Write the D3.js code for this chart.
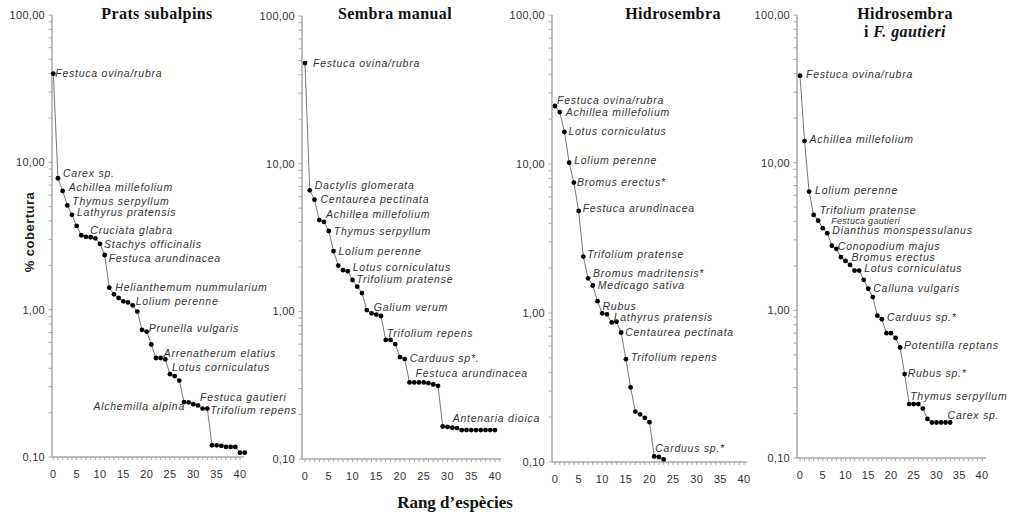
<!DOCTYPE html>
<html>
<head>
<meta charset="utf-8">
<script src="https://cdn.jsdelivr.net/npm/d3@7"></script>
<style>
  body { margin: 0; background: #fff; }
  svg { display: block; }
  .tick-lbl { font-family: "Liberation Sans", Arial, sans-serif; font-size: 11px; fill: #333; letter-spacing: 0.3px; }
  .sp-lbl { font-family: "Liberation Sans", Arial, sans-serif; font-size: 10.5px; font-style: italic; fill: #333; letter-spacing: 0.75px; }
  .title { font-family: "Liberation Serif", "Times New Roman", serif; font-size: 16px; font-weight: bold; fill: #111; letter-spacing: 0.4px; }
</style>
</head>
<body>
<div id="chart"></div>
<script>
// % cover by species rank (rank = array index)
var pratsCover = [40, 7.8, 6.4, 5.1, 4.4, 3.7, 3.2, 3.12, 3.1, 3.05, 2.8, 2.35,
  1.41, 1.27, 1.2, 1.14, 1.12, 1.07, 0.97, 0.73, 0.71, 0.58, 0.47, 0.47, 0.46,
  0.365, 0.354, 0.33, 0.236, 0.235, 0.228, 0.224, 0.213, 0.213, 0.12, 0.12,
  0.119, 0.117, 0.117, 0.117, 0.107, 0.107];
var sembraCover = [48, 6.6, 5.7, 4.15, 4.04, 3.5, 2.56, 2.04, 1.9, 1.87, 1.63,
  1.47, 1.33, 1.02, 0.97, 0.95, 0.93, 0.64, 0.64, 0.6, 0.49, 0.475, 0.33, 0.33,
  0.33, 0.33, 0.326, 0.32, 0.313, 0.166, 0.165, 0.163, 0.162, 0.157, 0.157,
  0.157, 0.157, 0.157, 0.157, 0.157, 0.157];
var hidroCover = [24.5, 22.3, 16.4, 10.2, 7.5, 4.84, 2.39, 1.71, 1.53, 1.2,
  0.995, 0.98, 0.865, 0.875, 0.74, 0.49, 0.317, 0.218, 0.209, 0.198, 0.185,
  0.109, 0.108, 0.104];
var hidroGautCover = [38.8, 14, 6.37, 4.43, 4.05, 3.6, 3.33, 2.74, 2.61, 2.29,
  2.16, 2.03, 1.86, 1.86, 1.61, 1.4, 1.23, 0.92, 0.87, 0.7, 0.7, 0.65, 0.56,
  0.37, 0.232, 0.232, 0.232, 0.216, 0.184, 0.174, 0.174, 0.174, 0.174, 0.174];

// species labels: [rank, name]
var pratsLabels = [[0, "Festuca ovina/rubra"], [1, "Carex sp."], [2, "Achillea millefolium"],
  [3, "Thymus serpyllum"], [4, "Lathyrus pratensis"], [6, "Cruciata glabra"],
  [10, "Stachys officinalis"], [11, "Festuca arundinacea"], [12, "Helianthemum nummularium"],
  [17, "Lolium perenne"], [20, "Prunella vulgaris"], [23, "Arrenatherum elatius"],
  [25, "Lotus corniculatus"], [28, "Alchemilla alpina"], [31, "Festuca gautieri"],
  [33, "Trifolium repens"]];
var sembraLabels = [[0, "Festuca ovina/rubra"], [1, "Dactylis glomerata"], [2, "Centaurea pectinata"],
  [4, "Achillea millefolium"], [5, "Thymus serpyllum"], [6, "Lolium perenne"],
  [9, "Lotus corniculatus"], [10, "Trifolium pratense"], [13, "Galium verum"],
  [17, "Trifolium repens"], [21, "Carduus sp*."], [22, "Festuca arundinacea"],
  [29, "Antenaria dioica"]];
var hidroLabels = [[0, "Festuca ovina/rubra"], [1, "Achillea millefolium"], [2, "Lotus corniculatus"],
  [3, "Lolium perenne"], [4, "Bromus erectus*"], [5, "Festuca arundinacea"],
  [6, "Trifolium pratense"], [7, "Bromus madritensis*"], [8, "Medicago sativa"],
  [9, "Rubus"], [12, "Lathyrus pratensis"], [14, "Centaurea pectinata"],
  [15, "Trifolium repens"], [21, "Carduus sp.*"]];
var hidroGautLabels = [[0, "Festuca ovina/rubra"], [1, "Achillea millefolium"], [2, "Lolium perenne"],
  [3, "Trifolium pratense"], [4, "Festuca gautieri"], [6, "Dianthus monspessulanus"],
  [7, "Conopodium majus"], [10, "Bromus erectus"], [13, "Lotus corniculatus"],
  [15, "Calluna vulgaris"], [18, "Carduus sp.*"], [22, "Potentilla reptans"],
  [23, "Rubus sp.*"], [24, "Thymus serpyllum"], [32, "Carex sp."]];

var yTickValues = [0.1, 1, 10, 100];
var xTickValues = [0, 5, 10, 15, 20, 25, 30, 35, 40];

// label nudges (dx, dy from the point), one per label
var pratsNudge = [[2, -1], [5, -5], [6, -4], [5, -4], [5, -3], [9, -5], [4, 0], [4, 3],
  [6, -1], [3, -4], [2, -4], [3, -5], [2, -7], [1, 4], [2, -8], [3, 1]];
var sembraNudge = [[8, 0], [5, -5], [6, -1], [2, -8], [5, 0], [5, 0], [5, -4], [4, -1],
  [7, -3], [1, -7], [5, -1], [6, -9], [10, -8]];
var hidroNudge = [[2, -6], [6, 0], [4, -1], [5, -3], [3, -1], [4, -3], [4, -3], [5, -5],
  [5, 0], [5, 5], [2, -5], [4, 0], [5, -2], [1, -8]];
var hidroGautNudge = [[6, -2], [5, -2], [6, -2], [6, -5], [13, -1], [5, -3], [6, 0],
  [6, -4], [5, -3], [5, -1], [5, -2], [4, -3], [3, -1], [1, -8], [2, -7]];

var panels = [
  {title: ["Prats subalpins"], cx: 157, cover: pratsCover, labels: pratsLabels, nudge: pratsNudge,
    ax: 52, x0: 53.3, x40: 240, xEnd: 244, yTop: 15, yBot: 457},
  {title: ["Sembra manual"], cx: 395, cover: sembraCover, labels: sembraLabels, nudge: sembraNudge,
    ax: 302, x0: 305, x40: 495, xEnd: 501, yTop: 16, yBot: 459},
  {title: ["Hidrosembra"], cx: 673, cover: hidroCover, labels: hidroLabels, nudge: hidroNudge,
    ax: 552, x0: 555, x40: 744, xEnd: 747, yTop: 15, yBot: 462},
  {title: ["Hidrosembra", "i F. gautieri"], cx: 905, cover: hidroGautCover, labels: hidroGautLabels, nudge: hidroGautNudge,
    ax: 797, x0: 800, x40: 982, xEnd: 986, yTop: 15, yBot: 458, smallLabel: "Festuca gautieri"}
];

var svg = d3.select("#chart")
  .append("svg")
  .attr("width", 1014)
  .attr("height", 517);

var axisColor = "#a8a8a8";
var fmt = function(v) { return v.toFixed(2).replace(".", ","); };

var minorY = [];
[0.1, 1, 10].forEach(function(d) {
  for (var m = 2; m <= 9; m++) minorY.push(+(d * m).toPrecision(3));
});

panels.forEach(function(p) {
  var x = d3.scaleLinear().domain([0, 40]).range([p.x0, p.x40]);
  var y = d3.scaleLog().domain([0.1, 100]).range([p.yBot, p.yTop]);
  var g = svg.append("g");

  // y axis line + ticks
  g.append("line")
    .attr("x1", p.ax).attr("x2", p.ax)
    .attr("y1", y(100)).attr("y2", p.yBot)
    .attr("stroke", axisColor).attr("stroke-width", 1.5);
  g.selectAll(".ytick")
    .data(yTickValues.concat(minorY))
    .enter().append("line")
    .attr("x1", p.ax - 3.5).attr("x2", p.ax)
    .attr("y1", function(d) { return y(d); })
    .attr("y2", function(d) { return y(d); })
    .attr("stroke", axisColor);
  g.selectAll(".ylbl")
    .data(yTickValues)
    .enter().append("text")
    .attr("class", "tick-lbl")
    .attr("x", p.ax - 7)
    .attr("y", function(d) { return y(d) + 4; })
    .attr("text-anchor", "end")
    .text(fmt);

  // x axis line + ticks
  g.append("line")
    .attr("x1", p.ax).attr("x2", p.xEnd)
    .attr("y1", p.yBot).attr("y2", p.yBot)
    .attr("stroke", axisColor).attr("stroke-width", 1.5);
  g.selectAll(".xtick")
    .data(d3.range(0, 42))
    .enter().append("line")
    .filter(function(d) { return x(d) <= p.xEnd; })
    .attr("x1", function(d) { return x(d); })
    .attr("x2", function(d) { return x(d); })
    .attr("y1", p.yBot).attr("y2", p.yBot + 3)
    .attr("stroke", axisColor);
  g.selectAll(".xlbl")
    .data(xTickValues)
    .enter().append("text")
    .attr("class", "tick-lbl")
    .attr("x", function(d) { return x(d); })
    .attr("y", p.yBot + 21)
    .attr("text-anchor", "middle")
    .text(function(d) { return d; });

  // line + dots
  var line = d3.line()
    .x(function(d, i) { return x(i); })
    .y(function(d) { return y(d); });
  g.append("path")
    .datum(p.cover)
    .attr("d", line)
    .attr("fill", "none")
    .attr("stroke", "#777")
    .attr("stroke-width", 1);
  g.selectAll(".dot")
    .data(p.cover)
    .enter().append("circle")
    .attr("cx", function(d, i) { return x(i); })
    .attr("cy", function(d) { return y(d); })
    .attr("r", 2.4)
    .attr("fill", "#000");

  // species labels
  g.selectAll(".sp")
    .data(p.labels)
    .enter().append("text")
    .attr("class", "sp-lbl")
    .attr("x", function(d, i) { return x(d[0]) + p.nudge[i][0]; })
    .attr("y", function(d, i) { return y(p.cover[d[0]]) + p.nudge[i][1] + 4; })
    .attr("text-anchor", function(d) { return d[1] === "Alchemilla alpina" ? "end" : "start"; })
    .style("font-size", function(d) { return d[1] === p.smallLabel ? "9px" : null; })
    .style("letter-spacing", function(d) { return d[1] === p.smallLabel ? "0.3px" : null; })
    .text(function(d) { return d[1]; });

  // title
  g.append("text")
    .attr("class", "title")
    .attr("x", p.cx)
    .attr("y", 19)
    .attr("text-anchor", "middle")
    .text(p.title[0]);
  if (p.title.length > 1) {
    var t2 = g.append("text")
      .attr("class", "title")
      .attr("x", p.cx)
      .attr("y", 37)
      .attr("text-anchor", "middle");
    t2.append("tspan").text("i ");
    t2.append("tspan").style("font-style", "italic").text("F. gautieri");
  }
});

// shared axis titles
svg.append("text")
  .attr("transform", "translate(34,232) rotate(-90)")
  .attr("text-anchor", "middle")
  .style("font-family", "'Liberation Sans', Arial, sans-serif")
  .style("font-size", "13px")
  .style("font-weight", "bold")
  .style("fill", "#222")
  .style("letter-spacing", "0.5px")
  .text("% cobertura");

svg.append("text")
  .attr("x", 455)
  .attr("y", 508)
  .attr("text-anchor", "middle")
  .style("font-family", "'Liberation Serif', 'Times New Roman', serif")
  .style("font-size", "17px")
  .style("font-weight", "bold")
  .style("fill", "#111")
  .text("Rang d\u2019espècies");
</script>
</body>
</html>
